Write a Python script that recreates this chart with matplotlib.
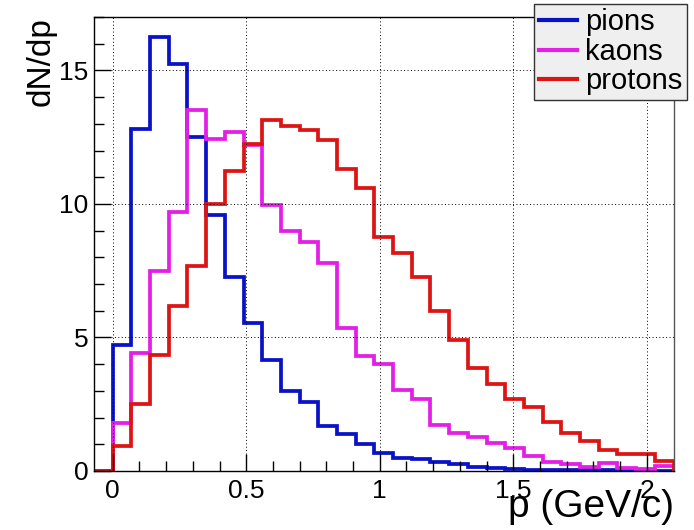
import numpy as np
import matplotlib
matplotlib.use("Agg")
import matplotlib.pyplot as plt

plt.rcParams["font.family"] = ["Liberation Sans", "DejaVu Sans"]

# Bin edges (width 0.07 GeV/c)
edges = np.round(np.arange(32) * 0.07 - 0.07, 2)

pions = [0, 4.7, 12.8, 16.25, 15.25, 12.5, 9.6, 7.25, 5.55, 4.15, 3.0,
         2.6, 1.7, 1.4, 1.0, 0.66, 0.5, 0.45, 0.33, 0.25, 0.16, 0.1,
         0.06, 0.05, 0.04, 0.03, 0.02, 0.02, 0.01, 0.01, 0.01]
kaons = [0, 1.8, 4.4, 7.5, 9.7, 13.5, 12.45, 12.7, 12.2, 9.95, 9.0,
         8.57, 7.8, 5.35, 4.32, 4.0, 3.05, 2.7, 1.73, 1.41, 1.29, 1.06,
         0.85, 0.56, 0.35, 0.25, 0.14, 0.31, 0.1, 0.06, 0.2]
protons = [0, 0.95, 2.5, 4.35, 6.17, 7.67, 10.0, 11.23, 12.25, 13.15, 12.92,
           12.76, 12.38, 11.29, 10.58, 8.77, 8.17, 7.28, 5.98, 4.9, 3.87, 3.26,
           2.7, 2.41, 1.83, 1.41, 1.14, 0.79, 0.64, 0.64, 0.39]

names = ["pions", "kaons", "protons"]
colors = ["#0a12c8", "#e31ee6", "#dd1414"]

fig = plt.figure(figsize=(6.94, 5.30), dpi=100)
ax = fig.add_axes([94 / 694, 1 - 471 / 530, (673.5 - 94) / 694, (471 - 17) / 530])

for vals, name, c in zip([pions, kaons, protons], names, colors):
    ax.stairs(vals, edges, color=c, lw=2.7, label=name)

ax.set_xlim(-0.07, 2.1)
ax.set_ylim(0, 17)

ax.set_xticks([0, 0.5, 1, 1.5, 2])
ax.set_xticklabels(["0", "0.5", "1", "1.5", "2"])
ax.set_xticks(np.arange(-0.0, 2.1, 0.1), minor=True)
ax.set_yticks([0, 5, 10, 15])
ax.set_yticks(range(0, 18), minor=True)

ax.tick_params(which="both", direction="in", top=False, right=False,
               labelsize=19, width=1)
ax.tick_params(which="major", length=12)
ax.tick_params(which="minor", length=7)
ax.tick_params(axis="x", pad=6)
ax.tick_params(axis="y", pad=4)

ax.grid(True, which="major", color="black", linestyle=(0, (1, 2.5)), lw=0.7)

for s in ax.spines.values():
    s.set_linewidth(1)
ax.spines["right"].set_color("#555555")

ax.set_ylabel("dN/dp", fontsize=24, loc="top", labelpad=2)
ax.set_xlabel("p (GeV/c)", fontsize=28, loc="right", labelpad=-10)

leg = ax.legend(handles=[plt.Line2D([], [], color=c, lw=3) for c in colors],
                labels=names, loc="upper right",
                bbox_to_anchor=(687 / 694, 1 - 4 / 530),
                bbox_transform=fig.transFigure, fontsize=21,
                frameon=True, fancybox=False, handlelength=1.3,
                handletextpad=0.3, borderpad=0.15, labelspacing=0.05,
                borderaxespad=0)
leg.get_frame().set_facecolor("#efefef")
leg.get_frame().set_edgecolor("#333333")
leg.get_frame().set_alpha(1)
leg.get_frame().set_linewidth(1)

fig.savefig("out.png", dpi=100)
